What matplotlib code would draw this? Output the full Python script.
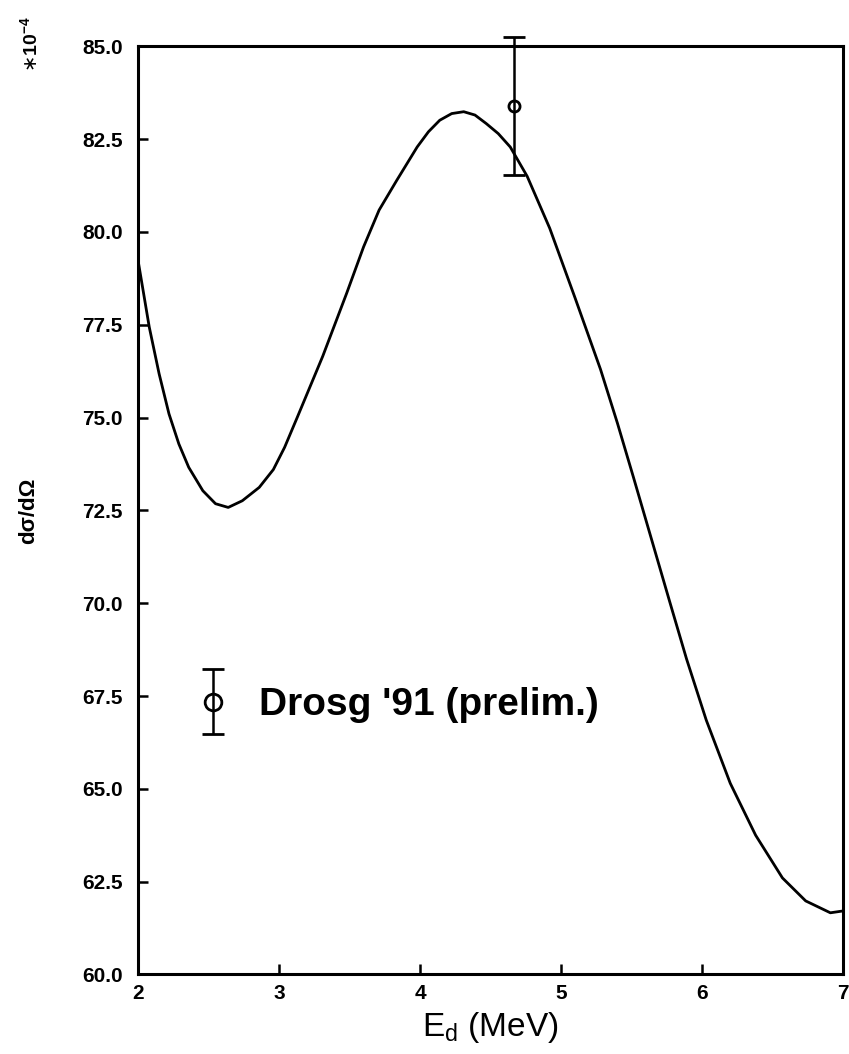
import matplotlib
matplotlib.use("Agg")
import matplotlib.pyplot as plt
from matplotlib.legend_handler import HandlerErrorbar

plt.rcParams["font.family"] = ["Liberation Sans", "DejaVu Sans"]

# calculated curve
energy = [2.00, 2.08, 2.15, 2.22, 2.29, 2.36, 2.46, 2.55, 2.64, 2.74,
          2.86, 2.96, 3.04, 3.13, 3.31, 3.48, 3.60, 3.71, 3.835, 3.98,
          4.06, 4.14, 4.225, 4.31, 4.39, 4.47, 4.555, 4.64, 4.76, 4.92,
          5.10, 5.28, 5.40, 5.513, 5.655, 5.77, 5.89, 6.03, 6.20, 6.38,
          6.57, 6.735, 6.91, 7.00]
cross_section = [79.25, 77.44, 76.18, 75.10, 74.29, 73.66, 73.03, 72.68, 72.58, 72.76,
                 73.12, 73.60, 74.20, 75.01, 76.65, 78.35, 79.60, 80.59, 81.39, 82.29,
                 82.70, 83.01, 83.19, 83.24, 83.15, 82.92, 82.65, 82.29, 81.50, 80.10,
                 78.22, 76.30, 74.85, 73.40, 71.55, 70.05, 68.50, 66.85, 65.15, 63.75,
                 62.60, 61.98, 61.66, 61.71]

# Drosg '91 data point
drosg_e = [4.67]
drosg_xs = [83.39]
drosg_err = [1.86]

y_ticks = [60.0, 62.5, 65.0, 67.5, 70.0, 72.5, 75.0, 77.5, 80.0, 82.5, 85.0]
x_ticks = [2, 3, 4, 5, 6, 7]


def main():
    fig = plt.figure(figsize=(8.49, 10.54), dpi=100)
    ax = fig.add_axes([0.1625, 0.0755, 0.8305, 0.8805])

    ax.plot(energy, cross_section, color="black", lw=2.0,
            solid_joinstyle="round")

    ax.errorbar(drosg_e, drosg_xs, yerr=drosg_err, fmt="o", mfc="none",
                mec="black", ms=8, mew=2.0, ecolor="black", elinewidth=1.8,
                capsize=8, capthick=2.0, clip_on=False,
                label="Drosg '91 (prelim.)")

    ax.set_xlim(2, 7)
    ax.set_ylim(60, 85)
    ax.set_xticks(x_ticks)
    ax.set_yticks(y_ticks)
    ax.set_yticklabels([f"{v:.1f}" for v in y_ticks])

    ax.tick_params(direction="in", length=7, width=1.8, labelsize=15)
    ax.tick_params(axis="y", pad=11)
    ax.tick_params(axis="x", pad=7)
    for lab in ax.get_xticklabels() + ax.get_yticklabels():
        lab.set_fontweight("bold")
    for spine in ax.spines.values():
        spine.set_linewidth(2.2)

    ax.set_xlabel(r"E$_\mathregular{d}$ (MeV)", fontsize=24, labelpad=5)
    ax.set_ylabel("dσ/dΩ", fontsize=16, fontweight="bold")
    ax.yaxis.set_label_coords(-0.14, 0.5)

    fig.text(31 / 849, 1 - 44 / 1054, r"$\ast$10$^{\mathregular{-4}}$",
             rotation=90, fontsize=14, fontweight="bold",
             ha="center", va="center")

    ax.legend(loc="center left", bbox_to_anchor=(0.073, 0.29),
              frameon=False, prop={"weight": "bold", "size": 28},
              handlelength=1.2, handletextpad=0.6, borderpad=0,
              borderaxespad=0, markerscale=1.5,
              handler_map={type(ax.containers[0]): HandlerErrorbar(yerr_size=0.84)})

    fig.savefig("out.png", dpi=100)
    plt.close(fig)


if __name__ == "__main__":
    main()
